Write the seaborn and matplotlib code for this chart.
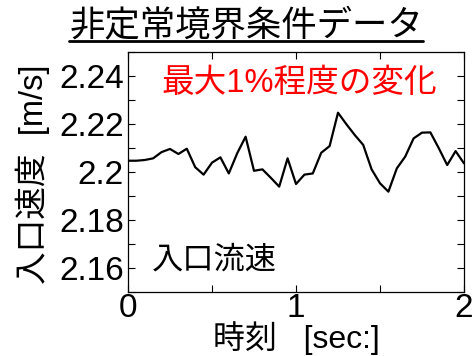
import numpy as np
import pandas as pd
import matplotlib
matplotlib.use("Agg")
import matplotlib.pyplot as plt
from matplotlib.lines import Line2D
from matplotlib.ticker import MultipleLocator, FixedLocator, FormatStrFormatter
import seaborn as sns

# Inlet velocity time history [s], [m/s]
time_sec = [0.00, 0.05, 0.10, 0.15, 0.20, 0.25, 0.30, 0.35, 0.40, 0.45,
            0.50, 0.55, 0.60, 0.65, 0.70, 0.75, 0.80, 0.85, 0.90, 0.95,
            1.00, 1.05, 1.10, 1.15, 1.20, 1.25, 1.30, 1.35, 1.40, 1.45,
            1.50, 1.55, 1.60, 1.65, 1.70, 1.75, 1.80, 1.85, 1.90, 1.95, 2.00]
inlet_velocity = [2.2047, 2.2047, 2.2050, 2.2057, 2.2083, 2.2096, 2.2075, 2.2097, 2.2020, 2.1989,
                  2.2039, 2.2061, 2.1994, 2.2078, 2.2147, 2.2005, 2.2011, 2.1976, 2.1939, 2.2057,
                  2.1950, 2.1989, 2.1994, 2.2080, 2.2108, 2.2247, 2.2199, 2.2154, 2.2113, 2.2011,
                  2.1953, 2.1918, 2.2015, 2.2064, 2.2140, 2.2164, 2.2165, 2.2099, 2.2029, 2.2087, 2.2036]

y_ticks = [2.16, 2.18, 2.20, 2.22, 2.24]
x_ticks = [0, 1, 2]

title_text = "非定常境界条件データ"
note_text = "最大1%程度の変化"
series_text = "入口流速"
x_label = "時刻   [sec:]"
y_label = "入口速度  [m/s]"

sns.set_theme(style="ticks")
plt.rcParams["font.family"] = ["Liberation Sans", "Noto Sans CJK JP", "DejaVu Sans"]
plt.rcParams["text.color"] = "black"
plt.rcParams["axes.labelcolor"] = "black"

df = pd.DataFrame({"t": time_sec, "v": inlet_velocity})

fig = plt.figure(figsize=(4.77, 3.56), dpi=100)
ax = fig.add_axes([128 / 477, 1 - 292 / 356, 336 / 477, 240 / 356])

sns.lineplot(data=df, x="t", y="v", ax=ax, color="black", linewidth=1.6)

ax.set_xlim(0, 2)
ax.set_ylim(2.15, 2.25)
ax.xaxis.set_major_locator(FixedLocator(x_ticks))
ax.xaxis.set_minor_locator(MultipleLocator(0.5))
ax.yaxis.set_major_locator(FixedLocator(y_ticks))
ax.yaxis.set_minor_locator(MultipleLocator(0.01))
ax.yaxis.set_major_formatter(FormatStrFormatter("%g"))
ax.xaxis.set_major_formatter(FormatStrFormatter("%g"))

for which in ("major", "minor"):
    ax.tick_params(axis="both", which=which, direction="in", length=5, width=0.8,
                   top=True, right=True, colors="black")
ax.tick_params(axis="both", which="major", labelsize=24, pad=3)
ax.tick_params(axis="x", which="major", pad=1)
for s in ax.spines.values():
    s.set_linewidth(0.9)
    s.set_color("black")

ax.set_xlabel(x_label, fontsize=23, va="center")
ax.xaxis.set_label_coords(0.5, (292 - 338.5) / 240)
ax.set_ylabel(y_label, fontsize=23.5, va="center")
ax.yaxis.set_label_coords((33 - 128) / 336, 0.49)

ax.text(1.02, 2.237, note_text, color="red", fontsize=23.5, ha="center", va="center")
ax.text(0.14, 2.1633, series_text, color="black", fontsize=22.5, ha="left", va="center")

title = fig.text(246 / 477, 1 - 25 / 356, title_text, fontsize=25.5, ha="center", va="center",
                 color="black")

# underline the heading
fig.canvas.draw()
bb = title.get_window_extent().transformed(fig.transFigure.inverted())
fig.add_artist(Line2D([bb.x0, bb.x1], [1 - 41 / 356, 1 - 41 / 356],
                      transform=fig.transFigure, color="black", linewidth=2))

fig.savefig("out.png", dpi=100)
